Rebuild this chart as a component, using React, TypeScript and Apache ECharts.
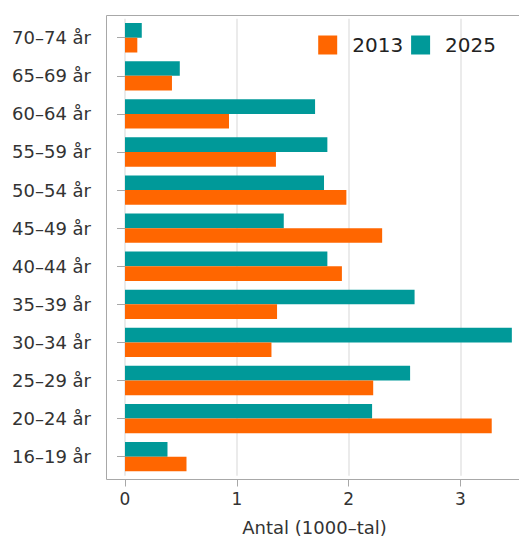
import React, { useEffect, useRef } from "react";
import * as echarts from "echarts";

const categories = [
  "16–19 år",
  "20–24 år",
  "25–29 år",
  "30–34 år",
  "35–39 år",
  "40–44 år",
  "45–49 år",
  "50–54 år",
  "55–59 år",
  "60–64 år",
  "65–69 år",
  "70–74 år",
];
const values2013 = [0.55, 3.28, 2.22, 1.31, 1.36, 1.94, 2.3, 1.98, 1.35, 0.93, 0.42, 0.11];
const values2025 = [0.38, 2.21, 2.55, 3.46, 2.59, 1.81, 1.42, 1.78, 1.81, 1.7, 0.49, 0.15];
const xTicks = [0, 1, 2, 3];
const seriesNames = ["2013", "2025"];
const axisTitle = "Antal (1000–tal)";

const FONT = "DejaVu Sans";
const TEXT = "#333333";
const FRAME = "#a8a8a8";

export default function App() {
  const ref = useRef<HTMLDivElement>(null);
  useEffect(() => {
    if (!ref.current) return;
    const chart = echarts.init(ref.current, null, { renderer: "svg" });
    chart.setOption({
      animation: false,
      textStyle: { fontFamily: FONT },
      grid: { left: 125, right: 0, top: 18.7, height: 457, containLabel: false },
      legend: {
        data: seriesNames,
        right: 18,
        top: 30,
        itemWidth: 19,
        itemHeight: 19,
        itemGap: 8,
        icon: "rect",
        textStyle: { fontSize: 20, color: "#222", fontFamily: FONT, padding: [0, 0, 0, 10] },
      },
      xAxis: {
        type: "value",
        min: 0,
        max: 3.524,
        interval: 1,
        offset: 3.8,
        axisLine: { show: false },
        axisTick: { show: true, length: 7, customValues: xTicks, lineStyle: { color: FRAME, width: 1 } },
        axisLabel: { fontSize: 17, color: TEXT, margin: 11, fontFamily: FONT, customValues: xTicks },
        splitLine: { show: true, lineStyle: { color: "#e4e4e4", width: 1.5 } },
      },
      yAxis: {
        type: "category",
        data: categories,
        offset: 19,
        axisLine: { show: false },
        axisTick: { show: true, alignWithLabel: true, length: 8, lineStyle: { color: FRAME, width: 1 } },
        axisLabel: { fontSize: 18, color: TEXT, margin: 15, fontFamily: FONT },
      },
      series: [
        {
          name: seriesNames[1],
          type: "bar",
          data: values2025,
          itemStyle: { color: "#009999" },
          barGap: "0%",
          barCategoryGap: "23%",
        },
        {
          name: seriesNames[0],
          type: "bar",
          data: values2013,
          itemStyle: { color: "#ff6600" },
          barGap: "0%",
          barCategoryGap: "23%",
        },
      ],
      graphic: [
        {
          type: "polyline",
          silent: true,
          shape: { points: [[540, 15.5], [106.5, 15.5], [106.5, 479.5], [540, 479.5]] },
          style: { stroke: FRAME, lineWidth: 1, fill: null },
          z: 10,
        },
        {
          type: "text",
          x: 314.5,
          y: 527,
          style: {
            text: axisTitle,
            font: `18px "${FONT}"`,
            fill: TEXT,
            textAlign: "center",
            textVerticalAlign: "middle",
          },
        },
      ],
    });
    return () => chart.dispose();
  }, []);
  return (
    <div
      ref={ref}
      style={{ position: "fixed", left: 0, top: 0, width: 519, height: 538, background: "#fff" }}
    />
  );
}
